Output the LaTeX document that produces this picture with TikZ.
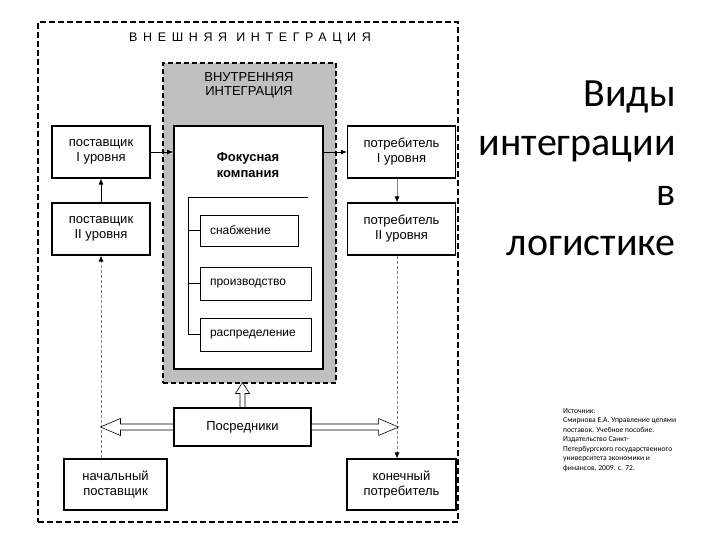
\documentclass[tikz,border=0pt]{standalone}
\usepackage{fontspec}
\setmainfont{Liberation Sans}
\newfontfamily\calib{Carlito}
\usetikzlibrary{arrows.meta}
\begin{document}
\begin{tikzpicture}[x=1pt,y=-1pt,
  box/.style={draw, line width=1.1pt, fill=white, align=center, inner sep=0pt,
    font=\fontsize{13}{15}\selectfont},
  sub/.style={draw, line width=0.8pt, fill=white, align=left, inner xsep=10pt, inner ysep=0pt,
    font=\fontsize{12}{14}\selectfont},
  conn/.style={line width=0.9pt, -{Latex[length=6pt,width=5pt]}},
  dconn/.style={line width=0.8pt, draw=gray, dash pattern=on 3pt off 2pt, -{Latex[length=6pt,width=5pt,color=black]}},
  hollow/.style={draw, line width=0.6pt, fill=white, line join=miter},
  bigtitle/.style={anchor=base east, inner sep=0pt, font=\calib\fontsize{40}{48}\selectfont}]
\useasboundingbox (0,0) rectangle (720,540);
\fill[white] (0,0) rectangle (720,540);
% outer dashed frame
\node[draw, line width=1.4pt, dash pattern=on 6pt off 3pt, minimum width=420, minimum height=500, inner sep=0pt] (outer) at (248,272) {};
\node[font=\fontsize{12.5}{14}\selectfont\addfontfeatures{LetterSpace=45}] (outtitle) at (250,38) {ВНЕШНЯЯ ИНТЕГРАЦИЯ};
% inner gray box
\node[draw, fill=gray!50, line width=1.4pt, dash pattern=on 5pt off 3pt, minimum width=173, minimum height=320, inner sep=0pt] (inner) at (249.5,223) {};
\node[align=center, font=\fontsize{13}{14}\selectfont] (intitle) at (249,85.5) {ВНУТРЕННЯЯ\\ИНТЕГРАЦИЯ};
% focus company
\node[draw, fill=white, line width=1.8pt, minimum width=149, minimum height=243, inner sep=0pt] (focus) at (248.5,247.5) {};
\node[align=center, font=\bfseries\fontsize{13}{16}\selectfont] (ftitle) at (248,165) {Фокусная\\компания};
\node[sub, text width=78pt, minimum height=31] (snab) at (249,230.5) {снабжение};
\node[sub, text width=91pt, minimum height=33] (proizv) at (255.5,283.5) {производство};
\node[sub, text width=91pt, minimum height=33] (raspr) at (255.5,334.5) {распределение};
\coordinate (brk) at (188,197);
\coordinate (brkr) at (308,197);
\draw[line width=0.7pt] (brkr) -- (brk) -- (brk |- raspr.west);
\draw[line width=0.7pt] (brk |- snab.west) -- (snab.west);
\draw[line width=0.7pt] (brk |- proizv.west) -- (proizv.west);
\draw[line width=0.7pt] (brk |- raspr.west) -- (raspr.west);
% suppliers
\node[box, minimum width=98, minimum height=52] (pos1) at (101,152) {поставщик\\I уровня};
\node[box, minimum width=98, minimum height=52] (pos2) at (101,229) {поставщик\\II уровня};
\node[box, minimum width=108, minimum height=52] (cons1) at (401.5,152) {потребитель\\I уровня};
\node[box, minimum width=108, minimum height=52] (cons2) at (401.5,229) {потребитель\\II уровня};
\node[box, minimum width=103, minimum height=51] (nach) at (115.5,484.5) {начальный\\поставщик};
\node[box, minimum width=109, minimum height=51] (kon) at (401.5,484.5) {конечный\\потребитель};
\node[box, minimum width=137, minimum height=38] (posr) at (242.5,427) {Посредники};
% connectors
\draw[conn] (pos2.north) -- (pos1.south);
\draw[conn] (pos1.east) -- (pos1.east -| focus.west);
\draw[conn] (focus.east |- cons1.west) -- (cons1.west);
\draw[line width=0.9pt, draw=gray, -{Latex[length=6pt,width=5pt,color=black]}] ([xshift=-4.5pt]cons1.south) -- ([xshift=-4.5pt]cons2.north);
\draw[dconn] (pos2.south |- nach.north) -- (pos2.south);
\draw[dconn] ([xshift=-4.5pt]cons2.south) -- ([xshift=-4.5pt]cons2.south |- kon.north);
% hollow arrows
\draw[hollow] (posr.west) ++(0,-3) -- ++(-53,0) -- ++(0,-5.5) -- ++(-20,8.5) -- ++(20,8.5) -- ++(0,-5.5) -- ++(53,0) -- cycle;
\draw[hollow] (posr.east) ++(0,-3) -- ++(67,0) -- ++(0,-5.5) -- ++(20,8.5) -- ++(-20,8.5) -- ++(0,-5.5) -- ++(-67,0) -- cycle;
\draw[hollow] (posr.north) ++(-2.5,0) -- ++(0,-14) -- ++(-4.5,0) -- ++(7,-11) -- ++(7,11) -- ++(-4.5,0) -- ++(0,14) -- cycle;
% right title
\node[bigtitle] (t1) at (676,107) {Виды};
\node[bigtitle] (t2) at (676,156) {интеграции};
\node[bigtitle] (t3) at (676,206) {в};
\node[bigtitle] (t4) at (676,255) {логистике};
% source
\node[anchor=north west, align=left, inner sep=0pt, font=\calib\fontsize{7.6}{9.5}\selectfont] (src) at (563,408)
 {Источник:\\Смирнова Е.А. Управление цепями\\поставок. Учебное пособие.\\Издательство Санкт-\\Петербургского государственного\\университета экономики и\\финансов, 2009. с. 72.};
\end{tikzpicture}
\end{document}
